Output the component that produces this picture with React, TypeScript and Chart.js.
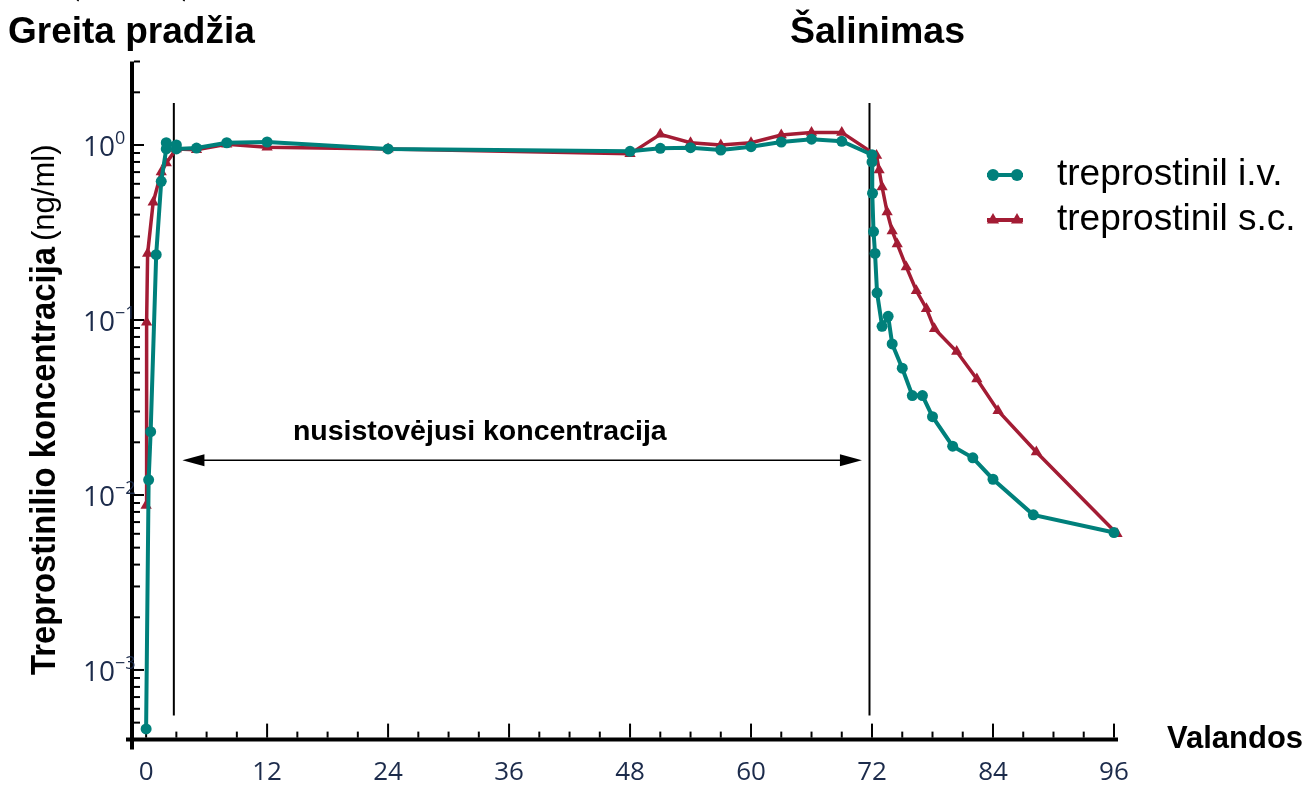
import React, { useEffect, useRef } from 'react';
import { Chart, registerables } from 'chart.js';

Chart.register(...registerables);

// ---- data ----
const ivHours = [0, 0.25, 0.45, 1, 1.5, 2, 2, 3, 3, 5, 8, 12, 24, 48, 51, 54, 57, 60, 63, 66, 69, 72, 72, 72.05, 72.15, 72.3, 72.5, 73, 73.6, 74, 75, 76, 77, 78, 80, 82, 84, 88, 96];
const ivConc = [0.00046, 0.0122, 0.023, 0.236, 0.62, 0.95, 1.03, 1.0, 0.95, 0.96, 1.03, 1.04, 0.95, 0.92, 0.957, 0.965, 0.936, 0.978, 1.04, 1.08, 1.05, 0.88, 0.8, 0.53, 0.32, 0.24, 0.143, 0.092, 0.105, 0.073, 0.053, 0.037, 0.037, 0.028, 0.019, 0.0163, 0.0123, 0.0077, 0.0061];

const scHours = [0, 0.05, 0.15, 0.7, 1.5, 2, 3, 5, 8, 12, 24, 48, 51, 54, 57, 60, 63, 66, 69, 72.45, 72.7, 73, 73.5, 74, 74.5, 75.4, 76.4, 77.4, 78.2, 80.4, 82.4, 84.5, 88.3, 96.3];
const scConc = [0.0087, 0.097, 0.24, 0.47, 0.7, 0.79, 0.95, 0.94, 1.01, 0.97, 0.95, 0.89, 1.15, 1.03, 1.0, 1.03, 1.14, 1.18, 1.18, 0.87, 0.72, 0.575, 0.414, 0.323, 0.272, 0.201, 0.147, 0.116, 0.089, 0.066, 0.046, 0.0303, 0.0176, 0.006];

const seriesLabels = ['treprostinil i.v.', 'treprostinil s.c.'];
const seriesColors = ['#00807b', '#a31c34'];
const seriesPointStyles = ['circle', 'triangle'];

const xTickLabels = ['0', '12', '24', '36', '48', '60', '72', '84', '96'];
const xMinorTickHours = [0, 3, 6, 9, 12, 15, 18, 21, 24, 27, 30, 33, 36, 39, 42, 45, 48, 51, 54, 57, 60, 63, 66, 69, 72, 75, 78, 81, 84, 87, 90, 93, 96];
const yMajorValues = [1, 0.1, 0.01, 0.001];
const yMajorExponents = ['0', '-1', '-2', '-3'];
const yMinorMultipliers = [2, 3, 4, 5, 6, 7, 8, 9];

const titleLeft = 'Greita pradžia';
const titleRight = 'Šalinimas';
const xAxisTitle = 'Valandos';
const yAxisTitleBold = 'Treprostinilio koncentracija';
const yAxisTitleUnit = '(ng/ml)';
const steadyLabel = 'nusistovėjusi koncentracija';

// annotation anchors (data units)
const phaseLineHours = [2.75, 71.75];
const phaseLineTop = 1.74;
const phaseLineBottom = 0.00055;
const arrowFromHour = 3.6;
const arrowToHour = 71.0;
const arrowLevel = 0.0158;
const steadyLabelHour = 33.1;
const steadyLabelLevel = 0.0229;

const X_MIN = -1.4;
const X_MAX = 96.3;
const Y_MIN = 0.0004;
const Y_MAX = 3;

const SANS = '"Liberation Sans", Arial, sans-serif';
const NUM = '"Open Sans", sans-serif';
const NAVY = '#1c2b4b';

function drawMarker(ctx: CanvasRenderingContext2D, style: string, x: number, y: number, r: number) {
  ctx.beginPath();
  if (style === 'triangle') {
    let rad = 0;
    ctx.moveTo(x + Math.sin(rad) * r, y - Math.cos(rad) * r);
    rad += (2 * Math.PI) / 3;
    ctx.lineTo(x + Math.sin(rad) * r, y - Math.cos(rad) * r);
    rad += (2 * Math.PI) / 3;
    ctx.lineTo(x + Math.sin(rad) * r, y - Math.cos(rad) * r);
    ctx.closePath();
  } else {
    ctx.arc(x, y, r, 0, Math.PI * 2);
  }
  ctx.fill();
}

const overlayPlugin = {
  id: 'overlay',
  beforeDatasetsDraw(chart: any) {
    const { ctx, scales } = chart;
    const x = scales.x;
    const y = scales.y;
    const area = chart.chartArea;
    ctx.save();

    // phase lines
    ctx.strokeStyle = '#000';
    ctx.lineWidth = 2;
    for (const h of phaseLineHours) {
      const px = x.getPixelForValue(h);
      ctx.beginPath();
      ctx.moveTo(px, y.getPixelForValue(phaseLineTop));
      ctx.lineTo(px, y.getPixelForValue(phaseLineBottom));
      ctx.stroke();
    }

    // double arrow
    const ax1 = x.getPixelForValue(arrowFromHour);
    const ax2 = x.getPixelForValue(arrowToHour);
    const ay = y.getPixelForValue(arrowLevel);
    const headLen = 22;
    const headHalf = 6;
    ctx.lineWidth = 1.6;
    ctx.beginPath();
    ctx.moveTo(ax1 + headLen - 2, ay);
    ctx.lineTo(ax2 - headLen + 2, ay);
    ctx.stroke();
    ctx.fillStyle = '#000';
    ctx.beginPath();
    ctx.moveTo(ax1, ay);
    ctx.lineTo(ax1 + headLen, ay - headHalf);
    ctx.lineTo(ax1 + headLen, ay + headHalf);
    ctx.closePath();
    ctx.fill();
    ctx.beginPath();
    ctx.moveTo(ax2, ay);
    ctx.lineTo(ax2 - headLen, ay - headHalf);
    ctx.lineTo(ax2 - headLen, ay + headHalf);
    ctx.closePath();
    ctx.fill();

    // steady state label
    ctx.font = `bold 28.5px ${SANS}`;
    ctx.textAlign = 'center';
    ctx.textBaseline = 'middle';
    ctx.fillText(steadyLabel, x.getPixelForValue(steadyLabelHour), y.getPixelForValue(steadyLabelLevel));

    // axis lines
    ctx.strokeStyle = '#000';
    ctx.lineWidth = 4;
    ctx.beginPath();
    ctx.moveTo(area.left, area.top);
    ctx.lineTo(area.left, area.bottom + 10);
    ctx.stroke();
    ctx.beginPath();
    ctx.moveTo(area.left - 6, area.bottom);
    ctx.lineTo(area.right + 1, area.bottom);
    ctx.stroke();

    // x tick marks (inward)
    ctx.lineWidth = 2;
    for (const h of xMinorTickHours) {
      const px = x.getPixelForValue(h);
      const major = xTickLabels.includes(String(h));
      ctx.beginPath();
      ctx.moveTo(px, area.bottom - 2);
      ctx.lineTo(px, area.bottom - (major ? 16 : 8));
      ctx.stroke();
    }

    // y tick marks (inward)
    for (const v of yMajorValues) {
      const py = y.getPixelForValue(v);
      ctx.beginPath();
      ctx.moveTo(area.left + 2, py);
      ctx.lineTo(area.left + 12, py);
      ctx.stroke();
      for (const m of yMinorMultipliers) {
        const mv = v * m;
        if (mv > Y_MAX || mv < Y_MIN) continue;
        const mpy = y.getPixelForValue(mv);
        ctx.beginPath();
        ctx.moveTo(area.left + 2, mpy);
        ctx.lineTo(area.left + 8, mpy);
        ctx.stroke();
      }
    }
    for (const m of yMinorMultipliers) {
      const mv = (yMajorValues[yMajorValues.length - 1] / 10) * m;
      if (mv < Y_MIN) continue;
      const mpy = y.getPixelForValue(mv);
      ctx.beginPath();
      ctx.moveTo(area.left + 2, mpy);
      ctx.lineTo(area.left + 8, mpy);
      ctx.stroke();
    }

    // y tick labels 10^n
    ctx.fillStyle = NAVY;
    ctx.textAlign = 'left';
    ctx.textBaseline = 'alphabetic';
    yMajorValues.forEach((v, i) => {
      const py = y.getPixelForValue(v);
      ctx.font = `28px ${NUM}`;
      ctx.fillText('10', 83, py + 11);
      const w = ctx.measureText('10').width;
      ctx.font = `18px ${NUM}`;
      ctx.fillText(yMajorExponents[i].replace('-', '\u2212'), 83 + w, py - 1);
    });

    ctx.restore();
  },
  afterDraw(chart: any) {
    const { ctx } = chart;
    ctx.save();
    ctx.fillStyle = '#000';
    ctx.textAlign = 'left';
    ctx.textBaseline = 'alphabetic';

    // titles
    ctx.font = `bold 37px ${SANS}`;
    ctx.fillText(titleLeft, 8, 43);
    ctx.font = `bold 37.5px ${SANS}`;
    ctx.fillText(titleRight, 790, 43);
    ctx.font = `bold 22px ${SANS}`;
    ctx.fillText('\u02BF', 74, 14);
    ctx.fillText('\u02BF', 180, 14);

    // x axis title
    ctx.font = `bold 31px ${SANS}`;
    ctx.fillText(xAxisTitle, 1167, 748);

    // y axis title (rotated)
    ctx.save();
    ctx.translate(55, 675);
    ctx.rotate(-Math.PI / 2);
    ctx.font = `bold 35px ${SANS}`;
    const bw = ctx.measureText(yAxisTitleBold).width;
    const targetBold = 428;
    ctx.save();
    ctx.scale(targetBold / bw, 1);
    ctx.fillText(yAxisTitleBold, 0, 0);
    ctx.restore();
    ctx.font = `31px ${SANS}`;
    ctx.fillText(yAxisTitleUnit, targetBold + 6, -1);
    ctx.restore();

    // legend
    chart.data.datasets.forEach((ds: any, i: number) => {
      const ly = 175 + 45 * i;
      ctx.strokeStyle = ds.borderColor;
      ctx.fillStyle = ds.borderColor;
      ctx.lineWidth = 4;
      ctx.beginPath();
      ctx.moveTo(987, ly);
      ctx.lineTo(1023, ly);
      ctx.stroke();
      drawMarker(ctx, ds.pointStyle, 993, ly, ds.pointRadius + 0.5);
      drawMarker(ctx, ds.pointStyle, 1017, ly, ds.pointRadius + 0.5);
      ctx.fillStyle = '#000';
      ctx.font = `37px ${SANS}`;
      ctx.textBaseline = 'middle';
      ctx.fillText(ds.label, 1057, ly);
      ctx.textBaseline = 'alphabetic';
    });

    ctx.restore();
  },
};

export default function App() {
  const ref = useRef<HTMLCanvasElement | null>(null);

  useEffect(() => {
    if (!ref.current) return;
    const mk = (hours: number[], conc: number[]) => hours.map((h, i) => ({ x: h, y: conc[i] }));
    const chart = new Chart(ref.current, {
      type: 'line',
      data: {
        datasets: [
          {
            label: seriesLabels[0],
            data: mk(ivHours, ivConc),
            borderColor: seriesColors[0],
            backgroundColor: seriesColors[0],
            borderWidth: 4,
            pointStyle: seriesPointStyles[0],
            pointRadius: 5.5,
            pointBorderWidth: 0,
            tension: 0,
            clip: false,
          } as any,
          {
            label: seriesLabels[1],
            data: mk(scHours, scConc),
            borderColor: seriesColors[1],
            backgroundColor: seriesColors[1],
            borderWidth: 3.5,
            pointStyle: seriesPointStyles[1],
            pointRadius: 6.5,
            pointBorderWidth: 0,
            tension: 0,
            clip: false,
          } as any,
        ],
      },
      options: {
        animation: false,
        responsive: true,
        maintainAspectRatio: false,
        layout: { padding: { top: 61.5, right: 194, left: 0, bottom: 0 } },
        plugins: { legend: { display: false }, tooltip: { enabled: false } },
        scales: {
          x: {
            type: 'linear',
            min: X_MIN,
            max: X_MAX,
            afterBuildTicks: (s: any) => {
              s.ticks = xTickLabels.map((t) => ({ value: Number(t) }));
            },
            afterFit: (s: any) => {
              s.height = 46.4;
            },
            grid: { display: false, drawTicks: false },
            border: { display: false },
            ticks: {
              autoSkip: false,
              maxRotation: 0,
              padding: 17,
              color: NAVY,
              font: { family: '"Open Sans", sans-serif', size: 26 },
              callback: (v: any) => String(v),
            },
          },
          y: {
            type: 'logarithmic',
            min: Y_MIN,
            max: Y_MAX,
            afterBuildTicks: (s: any) => {
              s.ticks = yMajorValues.map((v) => ({ value: v }));
            },
            afterFit: (s: any) => {
              s.width = 132;
            },
            grid: { display: false, drawTicks: false },
            border: { display: false },
            ticks: { display: false },
          },
        },
      },
      plugins: [overlayPlugin],
    });
    return () => chart.destroy();
  }, []);

  return (
    <div style={{ position: 'absolute', left: 0, top: 0, width: 1311, height: 786 }}>
      <canvas ref={ref} />
    </div>
  );
}
